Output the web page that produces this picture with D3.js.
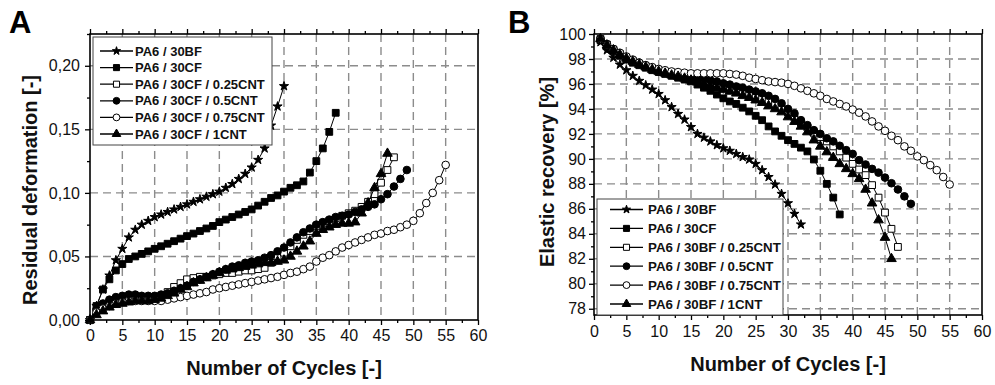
<!DOCTYPE html>
<html><head><meta charset="utf-8">
<script src="https://cdn.jsdelivr.net/npm/d3@7"></script>
<style>body{margin:0;background:#fff}svg{display:block}</style>
</head><body>
<script>
// ---------- DATA ----------
const xTicks = [0, 5, 10, 15, 20, 25, 30, 35, 40, 45, 50, 55, 60];
const xMinor = [2.5, 7.5, 12.5, 17.5, 22.5, 27.5, 32.5, 37.5, 42.5, 47.5, 52.5, 57.5];
const yTicksA = [0, 0.05, 0.10, 0.15, 0.20];
const yMinorA = [0.025, 0.075, 0.125, 0.175, 0.225];
const yTicksB = [78, 80, 82, 84, 86, 88, 90, 92, 94, 96, 98, 100];
const yMinorB = [79, 81, 83, 85, 87, 89, 91, 93, 95, 97, 99];

const labelsA = ["PA6 / 30BF", "PA6 / 30CF", "PA6 / 30CF / 0.25CNT", "PA6 / 30CF / 0.5CNT", "PA6 / 30CF / 0.75CNT", "PA6 / 30CF / 1CNT"];
const labelsB = ["PA6 / 30BF", "PA6 / 30CF", "PA6 / 30BF / 0.25CNT", "PA6 / 30BF / 0.5CNT", "PA6 / 30BF / 0.75CNT", "PA6 / 30BF / 1CNT"];

// Panel A: residual deformation, cycles 0..n
const a_bf = [0, 0.011, 0.024, 0.035, 0.047, 0.056, 0.065, 0.071, 0.075, 0.078, 0.081, 0.083, 0.085, 0.087, 0.089, 0.091, 0.093, 0.095, 0.097, 0.099, 0.101, 0.104, 0.107, 0.111, 0.115, 0.120, 0.126, 0.135, 0.153, 0.168, 0.184];
const a_cf = [0, 0.011, 0.024, 0.032, 0.039, 0.044, 0.048, 0.050, 0.052, 0.054, 0.056, 0.058, 0.060, 0.062, 0.064, 0.066, 0.068, 0.070, 0.072, 0.074, 0.077, 0.079, 0.081, 0.083, 0.085, 0.087, 0.090, 0.093, 0.096, 0.098, 0.101, 0.104, 0.106, 0.109, 0.116, 0.125, 0.135, 0.148, 0.163];
const a_cf025 = [0, 0.007, 0.012, 0.014, 0.016, 0.017, 0.017, 0.017, 0.016, 0.016, 0.017, 0.019, 0.022, 0.026, 0.029, 0.032, 0.033, 0.034, 0.034, 0.035, 0.036, 0.037, 0.037, 0.038, 0.039, 0.039, 0.040, 0.041, 0.045, 0.050, 0.053, 0.058, 0.063, 0.067, 0.070, 0.074, 0.076, 0.078, 0.080, 0.082, 0.084, 0.086, 0.089, 0.093, 0.099, 0.108, 0.118, 0.128];
const a_cf05 = [0, 0.008, 0.013, 0.016, 0.018, 0.019, 0.020, 0.020, 0.019, 0.019, 0.019, 0.020, 0.021, 0.023, 0.025, 0.027, 0.030, 0.032, 0.034, 0.036, 0.038, 0.040, 0.042, 0.043, 0.045, 0.046, 0.047, 0.049, 0.051, 0.054, 0.057, 0.061, 0.065, 0.069, 0.072, 0.075, 0.077, 0.079, 0.081, 0.082, 0.083, 0.085, 0.087, 0.089, 0.091, 0.095, 0.099, 0.105, 0.111, 0.118];
const a_cf075 = [0, 0.006, 0.009, 0.011, 0.013, 0.014, 0.015, 0.015, 0.015, 0.015, 0.015, 0.015, 0.016, 0.017, 0.018, 0.019, 0.020, 0.021, 0.022, 0.024, 0.025, 0.026, 0.027, 0.028, 0.029, 0.030, 0.031, 0.032, 0.033, 0.034, 0.0355, 0.037, 0.038, 0.040, 0.042, 0.046, 0.049, 0.051, 0.054, 0.057, 0.059, 0.061, 0.063, 0.065, 0.067, 0.068, 0.070, 0.071, 0.073, 0.075, 0.078, 0.084, 0.092, 0.100, 0.110, 0.122];
const a_cf1 = [0, 0.004, 0.007, 0.010, 0.012, 0.013, 0.014, 0.015, 0.015, 0.015, 0.016, 0.017, 0.019, 0.021, 0.024, 0.026, 0.029, 0.031, 0.033, 0.035, 0.037, 0.039, 0.040, 0.041, 0.042, 0.043, 0.044, 0.045, 0.045, 0.046, 0.047, 0.050, 0.054, 0.058, 0.062, 0.068, 0.071, 0.073, 0.075, 0.076, 0.076, 0.077, 0.084, 0.092, 0.104, 0.115, 0.131];

// Panel B: elastic recovery, cycles 1..n
const b_bf = [99.35, 98.7, 98.1, 97.55, 97.1, 96.65, 96.25, 95.9, 95.55, 95.2, 94.7, 94.15, 93.6, 93.15, 92.55, 92.0, 91.7, 91.4, 91.1, 90.85, 90.65, 90.4, 90.15, 89.95, 89.6, 89.1, 88.55, 87.95, 87.2, 86.45, 85.6, 84.75];
const b_cf = [99.5, 99.0, 98.6, 98.25, 97.95, 97.7, 97.5, 97.3, 97.1, 96.95, 96.8, 96.65, 96.5, 96.35, 96.2, 95.95, 95.7, 95.45, 95.15, 94.85, 94.6, 94.4, 94.1, 93.8, 93.45, 93.1, 92.6, 92.2, 91.85, 91.5, 91.2, 90.9, 90.6, 89.95, 89.05, 88.0, 86.9, 85.55];
const b_bf025 = [99.6, 99.15, 98.75, 98.4, 98.1, 97.85, 97.6, 97.4, 97.2, 97.05, 96.9, 96.8, 96.7, 96.6, 96.5, 96.4, 96.3, 96.15, 96.0, 95.9, 95.75, 95.6, 95.45, 95.3, 95.1, 94.9, 94.65, 94.4, 94.1, 93.7, 93.3, 92.9, 92.5, 92.1, 91.75, 91.4, 91.0, 90.6, 90.1, 89.6, 89.15, 88.7, 87.9, 86.9, 85.7, 84.4, 82.95];
const b_bf05 = [99.6, 99.2, 98.8, 98.45, 98.15, 97.9, 97.7, 97.5, 97.3, 97.15, 97.0, 96.9, 96.8, 96.7, 96.6, 96.5, 96.4, 96.3, 96.2, 96.05, 95.95, 95.8, 95.7, 95.55, 95.4, 95.25, 95.05, 94.8, 94.45, 94.0, 93.65, 93.1, 92.7, 92.3, 92.0, 91.65, 91.4, 91.05, 90.7, 90.4, 89.9, 89.55, 89.2, 88.9, 88.5, 88.05, 87.55, 87.0, 86.4];
const b_bf075 = [99.6, 99.15, 98.8, 98.5, 98.2, 97.95, 97.7, 97.5, 97.35, 97.2, 97.1, 97.0, 96.95, 96.9, 96.85, 96.85, 96.85, 96.85, 96.85, 96.85, 96.8, 96.75, 96.65, 96.5, 96.4, 96.3, 96.2, 96.15, 96.1, 96.0, 95.85, 95.65, 95.45, 95.25, 95.05, 94.8, 94.6, 94.4, 94.2, 93.95, 93.7, 93.4, 93.0, 92.6, 92.25, 91.85, 91.5, 91.0, 90.65, 90.2, 89.9, 89.5, 89.1, 88.55, 87.95];
const b_bf1 = [99.6, 99.1, 98.7, 98.35, 98.05, 97.8, 97.55, 97.35, 97.15, 97.0, 96.85, 96.7, 96.6, 96.45, 96.3, 96.15, 96.0, 95.85, 95.7, 95.55, 95.4, 95.25, 95.05, 94.9, 94.7, 94.5, 94.25, 94.0, 93.75, 93.35, 92.98, 92.6, 92.15, 91.5, 91.0, 90.55, 90.1, 89.6, 89.2, 88.8, 88.4, 87.55, 86.45, 85.1, 83.7, 82.0];

// ---------- STYLE ----------
const FONT = "'Liberation Sans', Arial, Helvetica, sans-serif";
const markers = [
  {type: d3.symbolStar, size: 26, open: false},
  {type: d3.symbolSquare, size: 46, open: false},
  {type: d3.symbolSquare, size: 46, open: true},
  {type: d3.symbolCircle, size: 46, open: false},
  {type: d3.symbolCircle, size: 46, open: true},
  {type: d3.symbolTriangle, size: 40, open: false}
];

const svg = d3.select("body").append("svg")
  .attr("width", 995).attr("height", 385)
  .style("font-family", FONT);
svg.append("rect").attr("width", 995).attr("height", 385).attr("fill", "#fff");

function panel(cfg) {
  const x = d3.scaleLinear().domain([0, 60]).range([cfg.left, cfg.right]);
  const y = d3.scaleLinear().domain(cfg.yDomain).range([cfg.bottom, cfg.top]);
  const g = svg.append("g");

  // grid
  g.selectAll(null).data(xTicks.filter(v => v > 0 && v < 60)).join("line")
    .attr("x1", d => x(d)).attr("x2", d => x(d))
    .attr("y1", cfg.top).attr("y2", cfg.bottom)
    .attr("stroke", "#8c8c8c").attr("stroke-width", 1.4).attr("stroke-dasharray", "8,5");
  g.selectAll(null).data(cfg.yMajor.filter(v => v > cfg.yDomain[0] && v < cfg.yDomain[1])).join("line")
    .attr("x1", cfg.left).attr("x2", cfg.right)
    .attr("y1", d => y(d)).attr("y2", d => y(d))
    .attr("stroke", "#8c8c8c").attr("stroke-width", 1.4).attr("stroke-dasharray", "8,5");

  // series
  const line = d3.line().x(d => x(d[0])).y(d => y(d[1]));
  cfg.series.forEach((vals, i) => {
    const pts = vals.map((v, j) => [cfg.start + j, v]);
    g.append("path").datum(pts).attr("d", line)
      .attr("fill", "none").attr("stroke", "#000").attr("stroke-width", 1);
    const m = markers[i];
    g.selectAll(null).data(pts).join("path")
      .attr("transform", d => `translate(${x(d[0])},${y(d[1])})`)
      .attr("d", d3.symbol(m.type, m.size))
      .attr("fill", m.open ? "#fff" : "#000")
      .attr("stroke", "#000").attr("stroke-width", 1);
  });

  // axes
  const styleAxis = sel => {
    sel.select(".domain").remove();
    sel.selectAll("line").attr("stroke", "#000").attr("stroke-width", 1.3);
    sel.selectAll("text").attr("font-family", FONT).attr("font-size", 16).attr("fill", "#111");
  };
  g.append("g").attr("transform", `translate(0,${cfg.bottom})`)
    .call(d3.axisBottom(x).tickValues(xTicks).tickSize(5).tickPadding(cfg.xPad).tickSizeOuter(0)).call(styleAxis);
  g.append("g").attr("transform", `translate(0,${cfg.bottom})`)
    .call(d3.axisBottom(x).tickValues(xMinor).tickSize(3).tickFormat("").tickSizeOuter(0)).call(styleAxis);
  g.append("g").attr("transform", `translate(0,${cfg.top})`)
    .call(d3.axisTop(x).tickValues(xTicks).tickSize(5).tickFormat("").tickSizeOuter(0)).call(styleAxis);
  g.append("g").attr("transform", `translate(0,${cfg.top})`)
    .call(d3.axisTop(x).tickValues(xMinor).tickSize(3).tickFormat("").tickSizeOuter(0)).call(styleAxis);
  g.append("g").attr("transform", `translate(${cfg.left},0)`)
    .call(d3.axisLeft(y).tickValues(cfg.yMajor).tickSize(5).tickPadding(cfg.yPad).tickFormat(cfg.fmt).tickSizeOuter(0)).call(styleAxis);
  g.append("g").attr("transform", `translate(${cfg.left},0)`)
    .call(d3.axisLeft(y).tickValues(cfg.yMinor).tickSize(3).tickFormat("").tickSizeOuter(0)).call(styleAxis);

  // frame
  g.append("rect").attr("x", cfg.left).attr("y", cfg.top)
    .attr("width", cfg.right - cfg.left).attr("height", cfg.bottom - cfg.top)
    .attr("fill", "none").attr("stroke", "#000").attr("stroke-width", 1.6);

  // legend
  const L = cfg.legend;
  g.append("rect").attr("x", L.x).attr("y", L.y).attr("width", L.w).attr("height", L.h)
    .attr("fill", "#fff").attr("stroke", "#444").attr("stroke-width", 1);
  cfg.labels.forEach((lab, i) => {
    const cy = L.row0 + i * L.step;
    g.append("line").attr("x1", L.lx1).attr("x2", L.lx2).attr("y1", cy).attr("y2", cy)
      .attr("stroke", "#000").attr("stroke-width", 1.3);
    const m = markers[i];
    g.append("path").attr("transform", `translate(${(L.lx1 + L.lx2) / 2},${cy})`)
      .attr("d", d3.symbol(m.type, m.size * 0.8))
      .attr("fill", m.open ? "#fff" : "#000").attr("stroke", "#000").attr("stroke-width", 1);
    g.append("text").attr("x", L.tx).attr("y", cy).attr("dy", "0.36em")
      .attr("font-size", L.fs).attr("font-weight", "bold").attr("fill", "#111").text(lab);
  });

  // axis titles
  g.append("text").attr("x", (cfg.left + cfg.right) / 2).attr("y", cfg.xTitleY)
    .attr("text-anchor", "middle").attr("font-size", 20).attr("font-weight", "bold").attr("fill", "#111")
    .text("Number of Cycles [-]");
  g.append("text").attr("transform", `translate(${cfg.yTitleX},${cfg.yTitleC}) rotate(-90)`)
    .attr("text-anchor", "middle").attr("dy", "0.36em")
    .attr("font-size", 20).attr("font-weight", "bold").attr("fill", "#111")
    .text(cfg.yTitle);
  g.append("text").attr("x", cfg.letterX).attr("y", 33)
    .attr("font-size", 31).attr("font-weight", "bold").attr("fill", "#000").text(cfg.letter);
}

panel({
  left: 90, right: 478, top: 34, bottom: 320,
  yDomain: [0, 0.225], yMajor: yTicksA, yMinor: yMinorA,
  fmt: d => d3.format(".2f")(d).replace(".", ","),
  xPad: 5, yPad: 5, start: 0,
  series: [a_bf, a_cf, a_cf025, a_cf05, a_cf075, a_cf1],
  labels: labelsA,
  legend: {x: 93, y: 37, w: 179, h: 108, row0: 51, step: 16.6, lx1: 100, lx2: 133, tx: 135, fs: 13},
  xTitleY: 375, yTitleX: 30, yTitleC: 190, yTitle: "Residual deformation [-]",
  letter: "A", letterX: 9
});

panel({
  left: 594, right: 982, top: 34, bottom: 315,
  yDomain: [77.5, 100], yMajor: yTicksB, yMinor: yMinorB,
  fmt: d => String(d),
  xPad: 6, yPad: 3, start: 1,
  series: [b_bf, b_cf, b_bf025, b_bf05, b_bf075, b_bf1],
  labels: labelsB,
  legend: {x: 597, y: 199, w: 186, h: 116, row0: 209.5, step: 18.9, lx1: 610, lx2: 643, tx: 648, fs: 13.3},
  xTitleY: 371, yTitleX: 547, yTitleC: 172, yTitle: "Elastic recovery [%]",
  letter: "B", letterX: 508
});
</script>
</body></html>
